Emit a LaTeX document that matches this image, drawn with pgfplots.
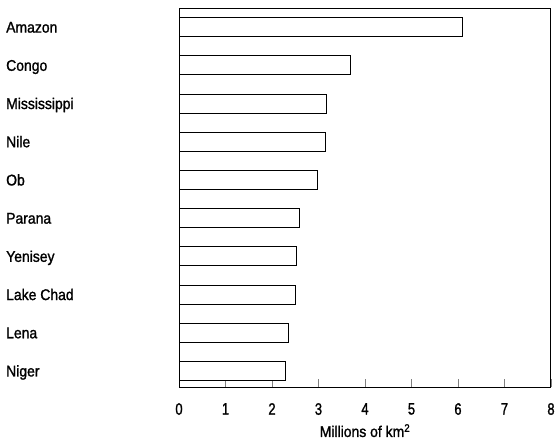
\documentclass[border=0pt]{standalone}
\usepackage{fontspec}
\setmainfont{Liberation Sans}[FakeStretch=0.9, FakeBold=1.3]
\newfontfamily\digitfont{Liberation Sans}[FakeStretch=0.78, FakeBold=1.3]
\usepackage{pgfplots}
\pgfplotsset{compat=1.18}
\begin{document}
\begin{tikzpicture}
\path[use as bounding box] (0bp,0bp) rectangle (555bp,443bp);
\begin{axis}[
  at={(179bp,56bp)}, anchor=south west,
  scale only axis, width=372bp, height=379bp,
  xbar, bar width=19bp,
  xmin=0, xmax=8, ymin=-0.5, ymax=9.42, y dir=reverse,
  xtick={0,...,8}, xtick pos=left, tick align=inside, major tick length=8bp,
  ytick={0,...,9},
  yticklabels={Amazon,Congo,Mississippi,Nile,Ob,Parana,Yenisey,Lake Chad,Lena,Niger},
  ytick style={draw=none},
  xtick style={line width=0.9bp},
  axis line style={line width=1bp},
  /pgf/number format/assume math mode=true,
  yticklabel style={anchor=base west, inner sep=0pt, xshift=-173bp, yshift=-5.5bp,
    font=\fontsize{15.5bp}{18bp}\selectfont},
  xticklabel style={anchor=north, inner sep=0pt, yshift=-16bp,
    font=\digitfont\fontsize{16.5bp}{18bp}\selectfont},
  xlabel={Millions of km\textsuperscript{2}},
  xlabel style={at={(axis description cs:0.5,0)}, anchor=north, inner sep=0pt, yshift=-37bp,
    font=\fontsize{15.5bp}{18bp}\selectfont},
]
\addplot[fill=white, draw=black, line width=0.9bp] coordinates {
  (6.10,0) (3.68,1) (3.18,2) (3.16,3) (2.97,4)
  (2.58,5) (2.53,6) (2.50,7) (2.35,8) (2.29,9)
};
\end{axis}
\end{tikzpicture}
\end{document}
